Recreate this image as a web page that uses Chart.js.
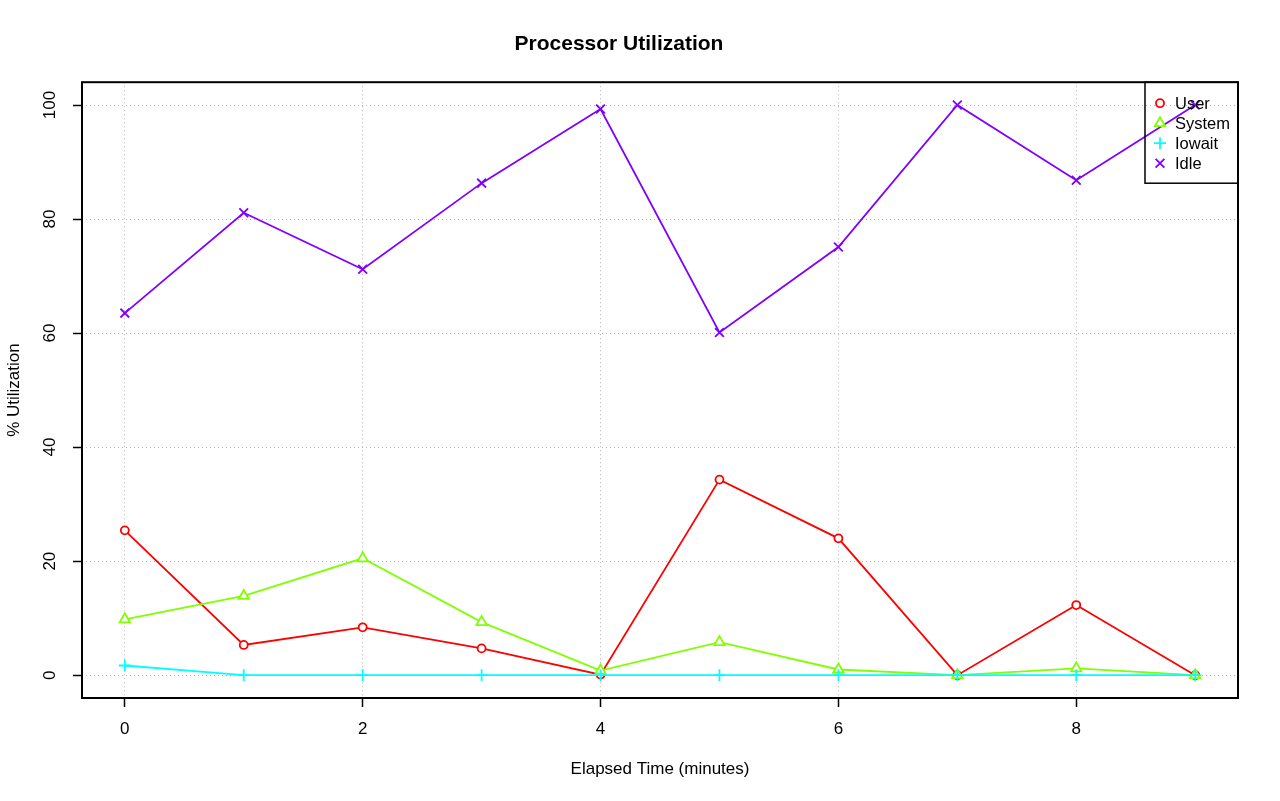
<!DOCTYPE html>
<html>
<head>
<meta charset="utf-8">
<title>Processor Utilization</title>
<script src="https://cdn.jsdelivr.net/npm/chart.js@4/dist/chart.umd.min.js"></script>
<style>
  html, body { margin: 0; padding: 0; background: #ffffff; }
  #wrap { width: 1280px; height: 801px; }
</style>
</head>
<body>
<div id="wrap"><canvas id="c" width="1280" height="801"></canvas></div>
<script>
// ---- data ----
const minutes = [0, 1, 2, 3, 4, 5, 6, 7, 8, 9];
const userPct = [25.4, 5.3, 8.4, 4.7, 0.1, 34.3, 24.0, 0.0, 12.3, 0.0];
const systemPct = [9.8, 13.9, 20.5, 9.3, 0.8, 5.8, 1.0, 0.0, 1.2, 0.0];
const iowaitPct = [1.7, 0.0, 0.0, 0.0, 0.0, 0.0, 0.0, 0.0, 0.0, 0.0];
const idlePct = [63.5, 81.1, 71.2, 86.3, 99.3, 60.1, 75.1, 100.0, 86.8, 100.0];
const seriesNames = ['User', 'System', 'Iowait', 'Idle'];
const xTickValues = [0, 2, 4, 6, 8];
const yTickValues = [0, 20, 40, 60, 80, 100];
const chartTitle = 'Processor Utilization';
const xTitle = 'Elapsed Time (minutes)';
const yTitle = '% Utilization';

const FONT = '"Liberation Sans", Arial, Helvetica, sans-serif';
const colors = ['#FF0000', '#80FF00', '#00FFFF', '#8000FF'];
const styles = ['circle', 'triangle', 'cross', 'crossRot'];
const radii = [4, 6, 6, 6.2];
const seriesValues = [userPct, systemPct, iowaitPct, idlePct];

const datasets = seriesNames.map((name, k) => ({
  label: name,
  data: minutes.map((m, i) => ({ x: m, y: seriesValues[k][i] })),
  borderColor: colors[k],
  backgroundColor: '#ffffff',
  borderWidth: 1.8,
  pointStyle: styles[k],
  pointRadius: radii[k],
  pointBorderWidth: 1.8,
  pointBorderColor: colors[k],
  pointBackgroundColor: (k < 2) ? '#ffffff' : colors[k],
  tension: 0,
  fill: false,
  order: 4 - k
}));

const boxPlugin = {
  id: 'rbox',
  afterDraw(chart) {
    const { ctx, chartArea: a } = chart;
    ctx.save();
    ctx.strokeStyle = '#000';
    ctx.lineWidth = 2;
    ctx.strokeRect(a.left, a.top, a.right - a.left, a.bottom - a.top);
    // legend (R style, no fill)
    const lx = a.right - 93, ly = a.top, lw = 93, lh = 101;
    ctx.lineWidth = 1.5;
    ctx.strokeRect(lx, ly, lw, lh);
    ctx.font = '16.5px ' + FONT;
    ctx.textBaseline = 'middle';
    ctx.textAlign = 'left';
    chart.data.datasets.forEach((ds, k) => {
      const cy = ly + 21 + k * 20;
      const cx = lx + 15;
      ctx.strokeStyle = ds.borderColor;
      ctx.fillStyle = ds.pointBackgroundColor;
      ctx.lineWidth = 1.8;
      Chart.helpers.drawPoint(ctx, {
        pointStyle: ds.pointStyle, radius: ds.pointRadius, rotation: 0, borderWidth: 1.8
      }, cx, cy);
      ctx.fillStyle = '#000';
      ctx.fillText(ds.label, lx + 30, cy + 1);
    });
    ctx.restore();
  }
};

const gridOpts = {
  color: '#b4b4b4', lineWidth: 1,
  drawTicks: true, tickLength: 9, tickColor: '#000', tickWidth: 1.5, tickBorderDash: []
};

new Chart(document.getElementById('c'), {
  type: 'line',
  data: { datasets },
  plugins: [boxPlugin],
  options: {
    responsive: false,
    animation: false,
    layout: { padding: { left: 0, right: 42, top: 0, bottom: 0 } },
    plugins: {
      legend: { display: false },
      tooltip: { enabled: false },
      title: {
        display: true,
        text: chartTitle,
        color: '#000',
        font: { family: FONT, size: 21, weight: 'bold', lineHeight: 1.2 },
        padding: { top: 32, bottom: 25 }
      }
    },
    scales: {
      x: {
        type: 'linear',
        min: -0.36,
        max: 9.36,
        afterBuildTicks(s) { s.ticks = xTickValues.map(v => ({ value: v })); },
        afterFit(s) { s.height = 103; },
        grid: gridOpts,
        border: { display: false, dash: [1, 3] },
        ticks: {
          color: '#000', font: { family: FONT, size: 17 }, padding: 12,
          maxRotation: 0, autoSkip: false,
          callback: (v) => String(v)
        },
        title: {
          display: true, text: xTitle, color: '#000',
          font: { family: FONT, size: 17, lineHeight: 1.2 },
          padding: { top: 0, bottom: 21 }
        }
      },
      y: {
        type: 'linear',
        min: -4,
        max: 104,
        afterBuildTicks(s) { s.ticks = yTickValues.map(v => ({ value: v })); },
        afterFit(s) { s.width = 82; },
        grid: gridOpts,
        border: { display: false, dash: [1, 3] },
        ticks: {
          color: '#000', font: { family: FONT, size: 17 }, padding: 9,
          minRotation: 90, maxRotation: 90, crossAlign: 'center', autoSkip: false,
          callback: (v) => String(v)
        },
        title: {
          display: true, text: yTitle, color: '#000',
          font: { family: FONT, size: 17, lineHeight: 1.2 },
          padding: { top: 4, bottom: 0 }
        }
      }
    }
  }
});
</script>
</body>
</html>
